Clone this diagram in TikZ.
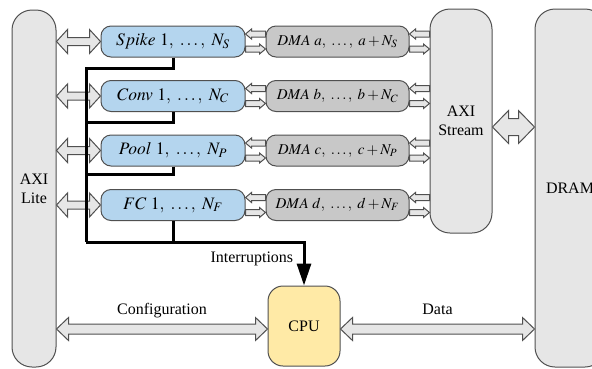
\documentclass[tikz,border=0pt]{standalone}
\usepackage{mathptmx}
\usepackage{fontspec}
\setmainfont{Liberation Serif}
\usetikzlibrary{positioning,calc,arrows.meta}

\definecolor{edge}{RGB}{80,80,80}
\definecolor{boxgray}{RGB}{230,230,230}
\definecolor{accblue}{RGB}{180,213,238}
\definecolor{dmagray}{RGB}{200,200,200}
\definecolor{cpuyellow}{RGB}{255,234,166}

\newcommand{\fatdouble}[5]{%
  \draw[fat] let \p1=(#1), \p2=(#2) in
    (\x1,\y1) -- (\x1+#3,\y1+#4) -- (\x1+#3,\y1+#5) -- (\x2-#3,\y1+#5) -- (\x2-#3,\y1+#4)
    -- (\x2,\y1) -- (\x2-#3,\y1-#4) -- (\x2-#3,\y1-#5) -- (\x1+#3,\y1-#5) -- (\x1+#3,\y1-#4) -- cycle;}
\newcommand{\fatsingle}[5]{%
  \draw[fat] let \p1=(#1), \p2=(#2), \n1={\x2-#3} in
    (\x1,\y1+#5) -- (\n1,\y1+#5) -- (\n1,\y1+#4) -- (\x2,\y1)
    -- (\n1,\y1-#4) -- (\n1,\y1-#5) -- (\x1,\y1-#5) -- cycle;}

\begin{document}
\begin{tikzpicture}[x=1pt, y=-1pt, font=\fontsize{16}{19}\selectfont,
    node distance=22.5pt and 20pt,
    base/.style={draw=edge, line width=1pt},
    acc/.style={base, fill=accblue, rounded corners=10pt, minimum width=144pt, minimum height=31pt, inner sep=0pt, font=\fontsize{17.5}{20}\selectfont},
    dma/.style={base, fill=dmagray, rounded corners=10pt, minimum width=143pt, minimum height=31pt, inner sep=0pt, font=\fontsize{15}{17}\selectfont},
    bus/.style={base, fill=boxgray, rounded corners=20pt, align=center, inner sep=0pt},
    fat/.style={draw=edge, fill=boxgray, line width=1pt, line join=miter},
    irq/.style={line width=3pt, line join=miter}]
    \useasboundingbox (0,0) rectangle (592,368);
    \clip (0,0) rectangle (592,368);

    \node[bus, minimum width=44pt, minimum height=357pt] (lite) at (34,188.5) {AXI\\Lite};
    \node[acc] (spike) at (173,41.5) {$Spike\ 1,\ \ldots,\ N_S$};
    \node[acc, below=of spike] (conv) {$Conv\ 1,\ \ldots,\ N_C$};
    \node[acc, below=of conv] (pool) {$Pool\ 1,\ \ldots,\ N_P$};
    \node[acc, below=of pool] (fc) {$FC\ 1,\ \ldots,\ N_F$};
    \node[dma, right=of spike] (dmaS) {$DMA\ a,\ \ldots,\ a+N_S$};
    \node[dma, right=of conv] (dmaC) {$DMA\ b,\ \ldots,\ b+N_C$};
    \node[dma, right=of pool] (dmaP) {$DMA\ c,\ \ldots,\ c+N_P$};
    \node[dma, right=of fc] (dmaF) {$DMA\ d,\ \ldots,\ d+N_F$};
    \node[bus, minimum width=62pt, minimum height=224pt] (stream) at (461,121) {AXI\\Stream};
    \node[bus, minimum width=70pt, minimum height=358pt] (dram) at (570,188) {DRAM};
    \node[base, fill=cpuyellow, rounded corners=15pt, minimum width=72pt, minimum height=80pt] (cpu) at (304,326) {CPU};

    \foreach \acc/\dm in {spike/dmaS, conv/dmaC, pool/dmaP, fc/dmaF} {
        \fatdouble{lite.east |- \acc.west}{\acc.west}{11pt}{12pt}{4pt}
        \fatsingle{$(\dm.west)+(0,-7.5)$}{$(\acc.east)+(0,-7.5)$}{-6pt}{5pt}{3pt}
        \fatsingle{$(\acc.east)+(0,7.5)$}{$(\dm.west)+(0,7.5)$}{6pt}{5pt}{3pt}
        \fatsingle{$(stream.west |- \dm.east)+(0,-7.5)$}{$(\dm.east)+(0,-7.5)$}{-6pt}{5pt}{3pt}
        \fatsingle{$(\dm.east)+(0,7.5)$}{$(stream.west |- \dm.east)+(0,7.5)$}{6pt}{5pt}{3pt}
    }
    \fatdouble{$(stream.east)+(0,6)$}{$(dram.west |- stream.east)+(0,6)$}{16pt}{16.5pt}{8.5pt}
    \fatdouble{$(lite.east |- cpu.west)+(0,3)$}{$(cpu.west)+(0,3)$}{12pt}{11.5pt}{5pt}
    \fatdouble{$(cpu.east)+(0,3)$}{$(dram.west |- cpu.east)+(0,3)$}{12pt}{11.5pt}{5pt}

    \node[anchor=base] (cfg) at ($(lite.east |- cpu.west)!0.5!(cpu.west)+(0,-12)$) {Configuration};
    \node[anchor=base] (data) at ($(cpu.east)!0.5!(dram.west |- cpu.east)+(0,-12)$) {Data};

    \coordinate (busBot) at (86,242);
    \draw[irq] (spike.south) -- ++(0,11) -| (busBot);
    \draw[irq] (conv.south) -- ++(0,10) -| (busBot);
    \draw[irq] (pool.south) -- ++(0,8) -| (busBot);
    \draw[irq] (fc.south) -- (fc.south |- busBot);
    \draw[irq, -{Triangle[length=22pt, width=14pt]}] (busBot) -| node[pos=0.5, below left, xshift=-6pt, yshift=-5pt] (irqlbl) {Interruptions} (cpu.north);
\end{tikzpicture}
\end{document}
